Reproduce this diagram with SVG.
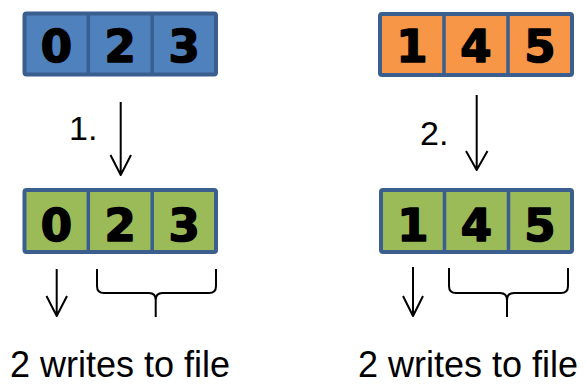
<svg xmlns="http://www.w3.org/2000/svg" width="587" height="385" viewBox="0 0 587 385">
  <style>
    .frame { stroke: #3a5f8e; stroke-width: 4; }
    .div { stroke: #3a5f8e; stroke-width: 3.5; }
    .blue { fill: #4f81bd; }
    .orange { fill: #f79646; }
    .green { fill: #9bbb59; }
    .digit { font-family: "DejaVu Sans", Verdana, sans-serif; font-weight: bold; font-size: 45px; fill: #000; stroke: #000; stroke-width: 1.6; stroke-linejoin: round; text-anchor: middle; }
    .label { font-family: "Liberation Sans", Arial, sans-serif; fill: #000; }
    .line { fill: none; stroke: #000; stroke-width: 2; stroke-linejoin: round; }
  </style>

  <!-- source arrays -->
  <g id="array-023">
    <rect class="frame blue" x="24.5" y="13.5" width="191.5" height="61" rx="2"/>
    <line class="div" x1="88.3" y1="13.5" x2="88.3" y2="74.5"/>
    <line class="div" x1="152.2" y1="13.5" x2="152.2" y2="74.5"/>
    <text class="digit" x="56.4" y="62">0</text>
    <text class="digit" x="120.2" y="62">2</text>
    <text class="digit" x="184.1" y="62">3</text>
  </g>

  <g id="array-145">
    <rect class="frame orange" x="380" y="14" width="192" height="61" rx="2"/>
    <line class="div" x1="444" y1="14" x2="444" y2="75"/>
    <line class="div" x1="508" y1="14" x2="508" y2="75"/>
    <text class="digit" x="412" y="62">1</text>
    <text class="digit" x="476" y="62">4</text>
    <text class="digit" x="540" y="62">5</text>
  </g>

  <!-- written arrays -->
  <g id="written-023">
    <rect class="frame green" x="24.5" y="190" width="191.5" height="62" rx="2"/>
    <line class="div" x1="88.3" y1="190" x2="88.3" y2="252"/>
    <line class="div" x1="152.2" y1="190" x2="152.2" y2="252"/>
    <text class="digit" x="56.4" y="241">0</text>
    <text class="digit" x="120.2" y="241">2</text>
    <text class="digit" x="184.1" y="241">3</text>
  </g>

  <g id="written-145">
    <rect class="frame green" x="381" y="190" width="191" height="62" rx="2"/>
    <line class="div" x1="444.5" y1="190" x2="444.5" y2="252"/>
    <line class="div" x1="508.5" y1="190" x2="508.5" y2="252"/>
    <text class="digit" x="413" y="241">1</text>
    <text class="digit" x="476.5" y="241">4</text>
    <text class="digit" x="540" y="241">5</text>
  </g>

  <!-- step labels -->
  <g id="step-1"><text class="label" x="69" y="140" font-size="34">1.</text></g>
  <g id="step-2"><text class="label" x="420" y="145" font-size="34">2.</text></g>

  <!-- write counts -->
  <g id="caption-left"><text class="label" x="10" y="377" font-size="36">2 writes to file</text></g>
  <g id="caption-right"><text class="label" x="358" y="377" font-size="36">2 writes to file</text></g>

  <!-- connectors -->
  <g id="connectors">
    <path class="line" d="M120.7,102 V175 M110.5,155 L120.7,175 L131,155"/>
    <path class="line" d="M476.7,95 V170 M466,151 L476.7,170 L487.5,151"/>
    <path class="line" d="M56.7,269 V316 M46.5,296 L56.7,316 L67,296"/>
    <path class="line" d="M413,267 V316 M403,296 L413,316 L423,296"/>
    <!-- braces -->
    <path class="line" d="M97,269 V286 Q97,293 104,293 H149 Q155.7,293 155.7,300 V317 M216,269 V286 Q216,293 209,293 H162.4 Q155.7,293 155.7,300"/>
    <path class="line" d="M449,268 V286 Q449,293 456,293 H500 Q507,293 507,300 V317 M568,268 V286 Q568,293 561,293 H514 Q507,293 507,300"/>
  </g>
</svg>
